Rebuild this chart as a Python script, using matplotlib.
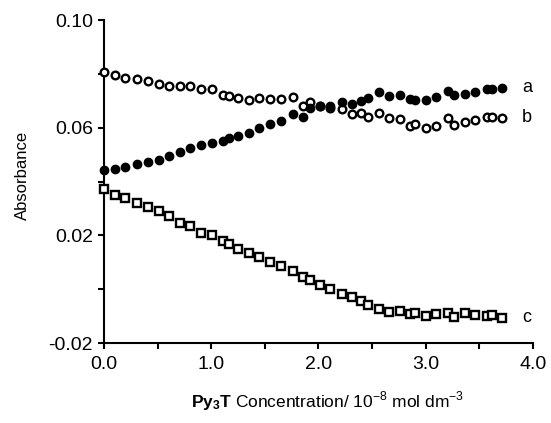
import matplotlib
matplotlib.use("Agg")
import matplotlib.pyplot as plt
from matplotlib.ticker import MultipleLocator

plt.rcParams['font.family'] = ['Liberation Sans', 'DejaVu Sans']
plt.rcParams['mathtext.fontset'] = 'custom'
plt.rcParams['mathtext.rm'] = 'Liberation Sans'
plt.rcParams['mathtext.bf'] = 'Liberation Sans:bold'

# 浓度 (10^-8 mol dm^-3)
conc = [0.0, 0.1, 0.2, 0.31, 0.41, 0.51, 0.61, 0.71, 0.80, 0.90,
        1.01, 1.11, 1.17, 1.25, 1.35, 1.45, 1.55, 1.65, 1.76, 1.86,
        1.92, 2.01, 2.11, 2.22, 2.31, 2.40, 2.46, 2.56, 2.66, 2.76,
        2.85, 2.90, 3.00, 3.10, 3.21, 3.26, 3.37, 3.46, 3.57, 3.62, 3.71]

# 曲线 a (实心圆)
abs_a = [0.0442, 0.0448, 0.0454, 0.0465, 0.0472, 0.0481, 0.0494, 0.0509, 0.0526, 0.0535,
         0.0542, 0.0550, 0.0560, 0.0569, 0.0582, 0.0597, 0.0612, 0.0625, 0.0651, 0.0641,
         0.0672, 0.0681, 0.0681, 0.0696, 0.0687, 0.0700, 0.0709, 0.0731, 0.0716, 0.0721,
         0.0706, 0.0703, 0.0703, 0.0715, 0.0736, 0.0721, 0.0724, 0.0733, 0.0743, 0.0745, 0.0748]

# 曲线 b (空心圆)
abs_b = [0.0808, 0.0796, 0.0786, 0.0780, 0.0774, 0.0761, 0.0755, 0.0756, 0.0756, 0.0743,
         0.0742, 0.0721, 0.0716, 0.0709, 0.0702, 0.0711, 0.0705, 0.0705, 0.0713, 0.0680,
         0.0696, 0.0680, 0.0672, 0.0669, 0.0651, 0.0653, 0.0641, 0.0653, 0.0635, 0.0631,
         0.0607, 0.0612, 0.0597, 0.0606, 0.0635, 0.0610, 0.0620, 0.0628, 0.0641, 0.0640, 0.0637]

# 曲线 c (空心方块)
abs_c = [0.0374, 0.0349, 0.0337, 0.0322, 0.0306, 0.0290, 0.0271, 0.0246, 0.0234, 0.0209,
         0.0201, 0.0180, 0.0166, 0.0151, 0.0133, 0.0120, 0.0101, 0.0085, 0.0068, 0.0046,
         0.0033, 0.0015, -0.0001, -0.0019, -0.0029, -0.0043, -0.0059, -0.0072, -0.0084, -0.0081,
         -0.0093, -0.0088, -0.0099, -0.0093, -0.0090, -0.0105, -0.0090, -0.0097, -0.0099, -0.0097, -0.0106]

curve_labels = ['a', 'b', 'c']

fig = plt.figure(figsize=(5.51, 4.23), dpi=100)
ax = fig.add_axes([0.1887, 0.1891, 0.7786, 0.7636])

ax.plot(conc, abs_b, 'o', ms=5.5, mfc='white', mec='black', mew=1.7, clip_on=False, zorder=3)
ax.plot(conc, abs_a, 'o', ms=6, mfc='black', mec='black', mew=1.0, clip_on=False, zorder=4)
ax.plot(conc, abs_c, 's', ms=5.2, mfc='white', mec='black', mew=1.7, clip_on=False, zorder=3)

# 曲线标签
for lab, ys in zip(curve_labels, [abs_a, abs_b, abs_c]):
    ax.text(conc[-1] + 0.19, ys[-1], lab, fontsize=13, ha='left', va='center')

ax.set_xlim(0, 4.0)
ax.set_ylim(-0.02, 0.10)
ax.xaxis.set_minor_locator(MultipleLocator(0.5))
ax.yaxis.set_minor_locator(MultipleLocator(0.02))
ax.set_xticks([0, 1, 2, 3, 4])
ax.set_xticklabels(['0.0', '1.0', '2.0', '3.0', '4.0'])
ax.set_yticks([-0.02, 0.02, 0.06, 0.10])
ax.set_yticklabels(['-0.02', '0.02', '0.06', '0.10'])

ax.spines['top'].set_visible(False)
ax.spines['right'].set_visible(False)
ax.spines['left'].set_linewidth(1.5)
ax.spines['bottom'].set_linewidth(1.5)
ax.tick_params(which='both', direction='out', length=4, width=1.5, labelsize=14)
ax.tick_params(axis='x', pad=5)
ax.tick_params(axis='y', pad=4)

ax.set_xlabel(r'$\mathbf{Py_3T}$ Concentration/ 10$^{-8}$ mol dm$^{-3}$', fontsize=12.5)
ax.xaxis.set_label_coords(0.52, -0.145)
ax.set_ylabel('Absorbance', fontsize=12)
ax.yaxis.set_label_coords(-0.172, 0.52)

plt.savefig('out.png', dpi=100)
